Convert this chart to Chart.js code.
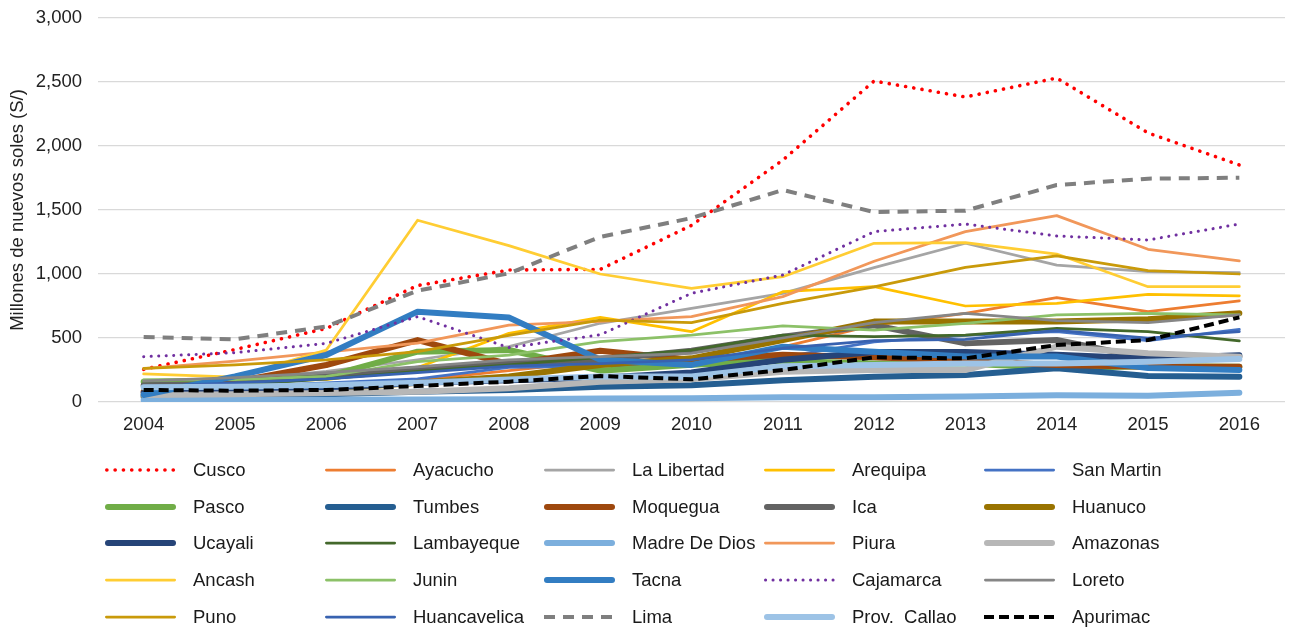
<!DOCTYPE html>
<html><head><meta charset="utf-8">
<script src="https://cdn.jsdelivr.net/npm/chart.js@4.4.1/dist/chart.umd.min.js"></script>
<style>
html,body{margin:0;padding:0;background:#fff;}
#wrap{position:relative;width:1293px;height:627px;overflow:hidden;font-family:"Liberation Sans",Arial,sans-serif;}
#chartBox{position:absolute;left:0;top:0;width:1293px;height:445px;}
#legend{position:absolute;left:0;top:0;width:1293px;height:627px;}
.item{position:absolute;height:24px;}
.item svg{position:absolute;left:0;top:6px;}
.item span{position:absolute;left:88px;top:0;line-height:24px;font-size:18.5px;color:#1a1a1a;white-space:pre;}
</style></head>
<body>
<div id="wrap">
  <div id="chartBox"><canvas id="c"></canvas></div>
  <div id="legend"></div>
</div>
<script>
// ---- data ----
const years = ['2004','2005','2006','2007','2008','2009','2010','2011','2012','2013','2014','2015','2016'];
const yTicks = [0, 500, 1000, 1500, 2000, 2500, 3000];
const cusco        = [255, 410, 575, 910, 1031, 1036, 1380, 1890, 2508, 2383, 2531, 2102, 1852];
const ayacucho     = [90, 110, 130, 170, 245, 320, 300, 430, 600, 693, 815, 706, 790];
const laLibertad   = [130, 170, 240, 330, 432, 615, 732, 849, 1050, 1240, 1070, 1018, 1010];
const arequipa     = [160, 165, 175, 270, 536, 661, 549, 862, 901, 750, 771, 841, 830];
const sanMartin    = [100, 120, 150, 180, 270, 280, 300, 350, 470, 520, 550, 480, 568];
const pasco        = [159, 167, 198, 393, 406, 245, 290, 320, 300, 300, 265, 280, 276];
const tumbes       = [40, 50, 60, 80, 94, 120, 130, 170, 198, 211, 263, 203, 198];
const moquegua     = [80, 159, 289, 484, 295, 400, 330, 370, 350, 320, 290, 275, 276];
const ica          = [130, 140, 200, 260, 300, 330, 400, 510, 600, 458, 484, 341, 354];
const huanuco      = [50, 70, 100, 150, 200, 289, 341, 484, 628, 628, 628, 646, 693];
const ucayali      = [70, 90, 110, 150, 170, 190, 230, 330, 390, 390, 370, 340, 365];
const lambayeque   = [100, 130, 180, 240, 290, 349, 406, 523, 510, 523, 575, 549, 477];
const madreDeDios  = [15, 17, 18, 20, 22, 28, 30, 38, 38, 42, 52, 48, 73];
const piura        = [260, 320, 390, 460, 600, 630, 667, 823, 1100, 1331, 1456, 1193, 1102];
const amazonas     = [55, 60, 70, 80, 107, 159, 177, 237, 250, 250, 432, 380, 354];
const ancash       = [219, 195, 406, 1420, 1222, 1000, 888, 979, 1240, 1245, 1156, 901, 901];
const junin        = [172, 175, 200, 315, 367, 471, 523, 594, 562, 615, 680, 693, 680];
const tacna        = [55, 200, 367, 706, 660, 330, 290, 432, 393, 355, 355, 265, 250];
const cajamarca    = [354, 385, 458, 667, 425, 525, 849, 992, 1331, 1390, 1297, 1266, 1390];
const loreto       = [165, 190, 230, 275, 330, 355, 380, 500, 620, 693, 635, 620, 680];
const puno         = [263, 290, 330, 393, 520, 640, 620, 771, 900, 1052, 1141, 1026, 1000];
const huancavelica = [120, 150, 180, 230, 280, 300, 330, 420, 480, 490, 560, 500, 550];
const lima         = [508, 490, 589, 870, 1005, 1290, 1437, 1656, 1484, 1495, 1695, 1745, 1752];
const provCallao   = [115, 120, 130, 150, 175, 200, 200, 280, 290, 300, 300, 315, 335];
const apurimac     = [94, 88, 94, 125, 159, 203, 177, 250, 349, 341, 445, 484, 661];

// ---- styles (label, data, color, width, dash, cap) ----
const THIN = 2.75, THICK = 6;
const series = [
  ['Cusco', cusco, '#FF0000', 3.6, [0.1, 8.2], 'round'],
  ['Ayacucho', ayacucho, '#ED7D31', THIN, [], 'round'],
  ['La Libertad', laLibertad, '#A5A5A5', THIN, [], 'round'],
  ['Arequipa', arequipa, '#FFC000', THIN, [], 'round'],
  ['San Martin', sanMartin, '#4472C4', THIN, [], 'round'],
  ['Pasco', pasco, '#70AD47', THICK, [], 'round'],
  ['Tumbes', tumbes, '#255E91', THICK, [], 'round'],
  ['Moquegua', moquegua, '#9E480E', THICK, [], 'round'],
  ['Ica', ica, '#636363', THICK, [], 'round'],
  ['Huanuco', huanuco, '#997300', THICK, [], 'round'],
  ['Ucayali', ucayali, '#264478', THICK, [], 'round'],
  ['Lambayeque', lambayeque, '#43682B', THIN, [], 'round'],
  ['Madre De Dios', madreDeDios, '#7CAFDD', THICK, [], 'round'],
  ['Piura', piura, '#F1975A', THIN, [], 'round'],
  ['Amazonas', amazonas, '#B7B7B7', THICK, [], 'round'],
  ['Ancash', ancash, '#FFCD33', THIN, [], 'round'],
  ['Junin', junin, '#8CC168', THIN, [], 'round'],
  ['Tacna', tacna, '#327DC2', THICK, [], 'round'],
  ['Cajamarca', cajamarca, '#7030A0', 3, [0.1, 7.4], 'round'],
  ['Loreto', loreto, '#868686', THIN, [], 'round'],
  ['Puno', puno, '#C99A0A', THIN, [], 'round'],
  ['Huancavelica', huancavelica, '#3862B0', THIN, [], 'round'],
  ['Lima', lima, '#7F7F7F', 4, [11, 8], 'butt'],
  ['Prov.  Callao', provCallao, '#9DC3E6', THICK, [], 'round'],
  ['Apurimac', apurimac, '#000000', 4, [10, 5], 'butt']
];

const N = series.length;
const datasets = series.map((s, i) => ({
  label: s[0], data: s[1], borderColor: s[2], backgroundColor: s[2],
  borderWidth: s[3], borderDash: s[4], borderCapStyle: s[5], borderJoinStyle: 'round',
  pointRadius: 0, pointHoverRadius: 0, tension: 0, fill: false, order: N - 1 - i
}));

const FONT = {family: '"Liberation Sans", Arial, sans-serif', size: 18.5};
const TXT = '#222222';

new Chart(document.getElementById('c'), {
  type: 'line',
  data: {labels: years, datasets},
  options: {
    responsive: true, maintainAspectRatio: false, animation: false,
    devicePixelRatio: 1,
    layout: {padding: {top: 18, right: 8, left: 0, bottom: 0}},
    plugins: {legend: {display: false}, tooltip: {enabled: false}},
    events: [],
    scales: {
      x: {
        type: 'category', offset: true,
        grid: {display: false, drawTicks: false},
        border: {display: false},
        ticks: {font: FONT, color: TXT, padding: 12, maxRotation: 0, autoSkip: false},
        afterFit: s => { s.height = 43; s.paddingLeft = 0; s.paddingRight = 0; }
      },
      y: {
        min: 0, max: 3000,
        afterBuildTicks: s => { s.ticks = yTicks.map(v => ({value: v})); },
        grid: {color: '#D9D9D9', lineWidth: 1.3, drawTicks: false},
        border: {display: false},
        ticks: {font: FONT, color: TXT, padding: 16,
          callback: v => v.toLocaleString('en-US')},
        title: {display: true, text: 'Millones de nuevos soles (S/)', font: FONT, color: TXT,
          padding: {top: 7, bottom: 0}},
        afterFit: s => { s.width = 98; s.paddingTop = 0; s.paddingBottom = 0; }
      }
    }
  }
});

// ---- HTML legend ----
const colX = [105, 325, 544, 764, 984];
const rowY = [470, 507, 543, 580, 617];
const leg = document.getElementById('legend');
series.forEach((s, i) => {
  const r = Math.floor(i / 5), c = i % 5;
  const div = document.createElement('div');
  div.className = 'item';
  div.style.left = colX[c] + 'px';
  div.style.top = (rowY[r] - 12) + 'px';
  const w = s[3];
  const inset = s[5] === 'round' ? w / 2 : 0;
  const dash = s[4].length ? `stroke-dasharray="${s[4].join(',')}"` : '';
  div.innerHTML = `<svg width="72" height="12"><line x1="${inset}" y1="6" x2="${71 - inset}" y2="6" stroke="${s[2]}" stroke-width="${w}" stroke-linecap="${s[5]}" ${dash}/></svg><span>${s[0]}</span>`;
  leg.appendChild(div);
});
</script>
</body></html>
